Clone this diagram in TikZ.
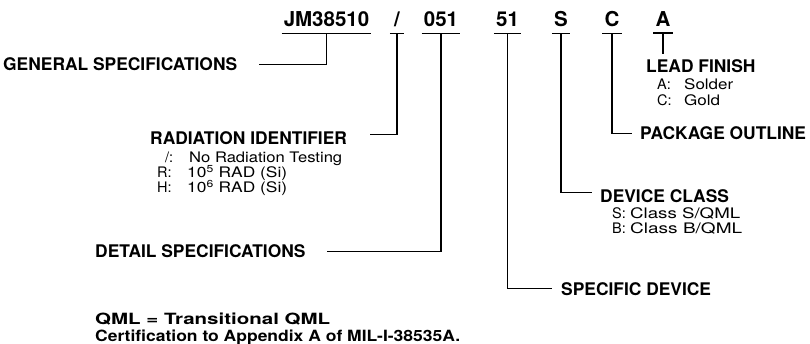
\documentclass[tikz,border=0pt]{standalone}
\usepackage{fontspec}
\setmainfont{TeX Gyre Heros}
\usepackage{graphicx}
\usepackage{tikz}
\providecommand{\hdfont}{\fontsize{20.5}{24}\selectfont\bfseries}
\providecommand{\lbfont}{\fontsize{17.4}{20}\selectfont\bfseries}
\providecommand{\entryfont}{\fontsize{14.5}{17}\selectfont}
\providecommand{\notefont}{\fontsize{15.5}{19}\selectfont\bfseries}
% key in a fixed box, value set to the width it has in the print
\providecommand{\kv}[4]{\makebox[#1][l]{#2}\resizebox{#3}{\height}{#4}}
\providecommand{\fitw}[2]{\resizebox{#1}{\height}{#2}}

\begin{document}
\begin{tikzpicture}[x=1pt, y=-1pt,
  code/.style={font=\hdfont, anchor=base, inner xsep=2pt, inner ysep=6pt},
  field/.style={font=\lbfont, anchor=base west, inner sep=0pt},
  entry/.style={font=\entryfont, anchor=base west, inner sep=0pt},
  note/.style={font=\notefont, anchor=base west, inner sep=0pt},
  conn/.style={line width=1.6pt}
]
\useasboundingbox (0,0) rectangle (810,344);

% part number fields
\node[code] (cJM)  at (326.5,27) {JM38510};
\node[code, minimum width=14pt] (cRad) at (397,27) {/};
\node[code] (cDet) at (441,27) {051};
\node[code] (cDev) at (507.5,27) {51};
\node[code] (cCls) at (561,27) {S};
\node[code] (cPkg) at (612,27) {C};
\node[code] (cFin) at (663,27) {A};
\foreach \n in {cJM,cRad,cDet,cDev,cCls,cPkg,cFin}
  \draw[conn] (\n.south west) -- (\n.south east);

% field names
\node[field] (gen)  at (3,71)    {GENERAL SPECIFICATIONS};
\node[field] (rad)  at (150,145) {RADIATION IDENTIFIER};
\node[field] (det)  at (95,258)  {DETAIL SPECIFICATIONS};
\node[field] (spec) at (561,295) {SPECIFIC DEVICE};
\node[field] (cls)  at (600,203) {DEVICE CLASS};
\node[field] (pkg)  at (640,140) {PACKAGE OUTLINE};
\node[field] (fin)  at (646,73)  {LEAD FINISH};

% options
\node[entry] (rad1) at (165,163) {\kv{24pt}{/:}{153pt}{No Radiation Testing}};
\node[entry] (rad2) at (157,178) {\kv{30pt}{R:}{100pt}{10\textsuperscript{5} RAD (Si)}};
\node[entry] (rad3) at (157,193) {\kv{30pt}{H:}{100pt}{10\textsuperscript{6} RAD (Si)}};
\node[entry] (cls1) at (612,219) {\kv{18pt}{S:}{110pt}{Class S/QML}};
\node[entry] (cls2) at (612,234) {\kv{18pt}{B:}{112pt}{Class B/QML}};
\node[entry] (fin1) at (657,90)  {\kv{27pt}{A:}{49pt}{Solder}};
\node[entry] (fin2) at (657,106) {\kv{27pt}{C:}{36pt}{Gold}};

% notes
\node[note] (qml)  at (95,324) {\fitw{235pt}{QML = Transitional QML}};
\node[note] (cert) at (95,341) {\fitw{365pt}{Certification to Appendix A of MIL-I-38535A.}};

% leaders
\draw[conn, shorten >=22pt] (cJM.south) |- (gen.east);
\draw[conn, shorten >=23pt] (cRad.south) |- ([yshift=4pt]rad.east);
\draw[conn, shorten >=21pt] (cDet.south) |- (det.east);
\draw[conn, shorten >=9pt]  (cDev.south) |- (spec.west);
\draw[conn, shorten >=8pt]  (cCls.south) |- ([yshift=4pt]cls.west);
\draw[conn, shorten >=8pt]  (cPkg.south) |- (pkg.west);
\draw[conn, shorten >=6pt]  (cFin.south) -- (cFin.south |- fin.north);
\end{tikzpicture}
\end{document}
